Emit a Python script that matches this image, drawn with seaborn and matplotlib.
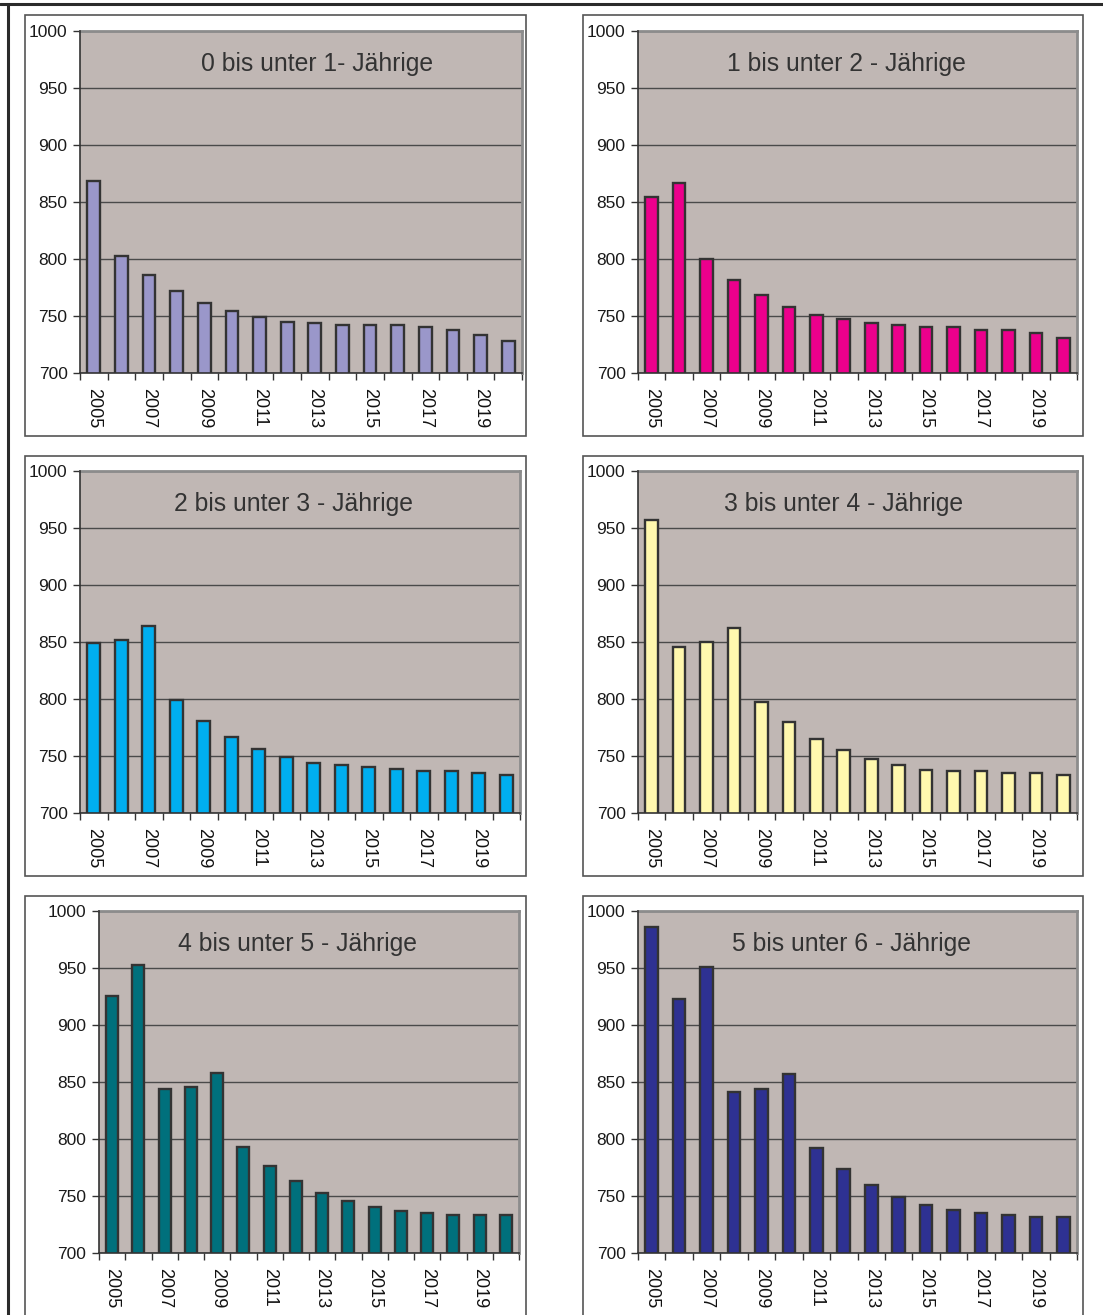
import numpy as np
import pandas as pd
import matplotlib
matplotlib.use("Agg")
import matplotlib.pyplot as plt
from matplotlib.patches import Rectangle
from matplotlib.lines import Line2D
from matplotlib.ticker import FixedLocator, NullFormatter
import seaborn as sns

# ---- data -------------------------------------------------------------
years = list(range(2005, 2021))
year_labels = [str(y) if (y - 2005) % 2 == 0 else "" for y in years]

titles = [
    "0 bis unter 1- Jährige",
    "1 bis unter 2 - Jährige",
    "2 bis unter 3 - Jährige",
    "3 bis unter 4 - Jährige",
    "4 bis unter 5 - Jährige",
    "5 bis unter 6 - Jährige",
]

age_0_1 = [868, 803, 786, 772, 761, 754, 749, 745, 744, 742, 742, 742, 740, 738, 733, 728]
age_1_2 = [854, 867, 800, 782, 768, 758, 751, 747, 744, 742, 740, 740, 738, 738, 735, 731]
age_2_3 = [849, 852, 864, 799, 781, 767, 756, 749, 744, 742, 740, 739, 737, 737, 735, 733]
age_3_4 = [957, 846, 850, 862, 797, 780, 765, 755, 747, 742, 738, 737, 737, 735, 735, 733]
age_4_5 = [925, 953, 844, 846, 858, 793, 776, 763, 753, 746, 740, 737, 735, 733, 733, 733]
age_5_6 = [986, 923, 951, 841, 844, 857, 792, 774, 760, 749, 742, 738, 735, 733, 732, 732]

series = [age_0_1, age_1_2, age_2_3, age_3_4, age_4_5, age_5_6]
bar_colors = ["#9A97CA", "#EC008C", "#00AEEF", "#FFF8AE", "#00707C", "#2E3192"]

y_min, y_max, y_step = 700, 1000, 50

# ---- layout (pixels) ----------------------------------------------------
W, H = 1103, 1315
# plot areas: left, top, right, bottom
plot_boxes = [
    (80, 31, 522, 373),
    (638, 31, 1077, 373),
    (80, 471, 520, 813),
    (638, 471, 1077, 813),
    (99, 911, 519, 1253),
    (638, 911, 1077, 1253),
]
# white frames around each chart
frame_boxes = [
    (25, 15, 526, 436),
    (583, 15, 1083, 436),
    (25, 456, 526, 876),
    (583, 456, 1083, 876),
    (25, 896, 526, 1330),
    (583, 896, 1083, 1330),
]
# horizontal centre of each title in pixels
title_cx = [317, 846, 293, 844, 297, 852]

sns.set_style("white")
plt.rcParams["font.family"] = ["Liberation Sans", "DejaVu Sans"]

fig = plt.figure(figsize=(W / 100, H / 100), dpi=100)
fig.patch.set_facecolor("white")


def fig_rect(l, t, r, b):
    return (l / W, 1 - b / H, (r - l) / W, (b - t) / H)


# outer page rules
fig.add_artist(Line2D([0, 1], [1 - 4 / H, 1 - 4 / H], transform=fig.transFigure,
                      color="#2b2b2b", lw=2.2))
fig.add_artist(Line2D([8 / W, 8 / W], [0, 1 - 4 / H], transform=fig.transFigure,
                      color="#2b2b2b", lw=2.2))

for (l, t, r, b) in frame_boxes:
    x0, y0, w, h = fig_rect(l, t, r, b)
    fig.add_artist(Rectangle((x0, y0), w, h, transform=fig.transFigure,
                             facecolor="white", edgecolor="#555555", lw=1.2, zorder=0))

for i, vals in enumerate(series):
    ax = fig.add_axes(fig_rect(*plot_boxes[i]))
    ax.set_facecolor("#C0B7B4")
    df = pd.DataFrame({"Jahr": [str(y) for y in years], "Anzahl": vals})
    sns.barplot(data=df, x="Jahr", y="Anzahl", ax=ax, color=bar_colors[i],
                saturation=1, width=0.46, edgecolor="#333333", linewidth=1.7,
                zorder=3)
    ax.set_ylim(y_min, y_max)
    ax.set_xlim(-0.5, len(years) - 0.5)
    ax.set_xlabel("")
    ax.set_ylabel("")

    # gridlines
    ax.set_yticks(np.arange(y_min, y_max + 1, y_step))
    ax.yaxis.grid(True, color="#4a4a4a", lw=1.0, zorder=1)
    ax.xaxis.grid(False)
    ax.set_axisbelow(True)
    ax.tick_params(axis="y", direction="out", length=5, width=1, color="#333333",
                   pad=4, labelsize=12.5, labelcolor="#1a1a1a", left=True)

    # year labels under bar centres, tick marks on category boundaries
    ax.set_xticks(range(len(years)))
    ax.set_xticklabels(year_labels, rotation=-90, fontsize=13, color="#111111",
                       va="top", ha="center")
    ax.tick_params(axis="x", which="major", length=0, pad=11)
    ax.xaxis.set_minor_locator(FixedLocator(np.arange(-0.5, len(years), 1.0)))
    ax.xaxis.set_minor_formatter(NullFormatter())
    ax.tick_params(axis="x", which="minor", direction="out", length=5, width=1,
                   color="#333333", bottom=True)

    for side in ["left", "bottom"]:
        ax.spines[side].set_color("#333333")
        ax.spines[side].set_linewidth(1.2)
        ax.spines[side].set_zorder(4)
    for side in ["top", "right"]:
        ax.spines[side].set_color("#8c8c8c")
        ax.spines[side].set_linewidth(2)

    l, t, r, b = plot_boxes[i]
    ax.text((title_cx[i] - l) / (r - l), 1 - 33 / (b - t), titles[i],
            transform=ax.transAxes, ha="center", va="center",
            fontsize=17.8, color="#333333", zorder=5)

fig.savefig("out.png", dpi=100, facecolor="white")
